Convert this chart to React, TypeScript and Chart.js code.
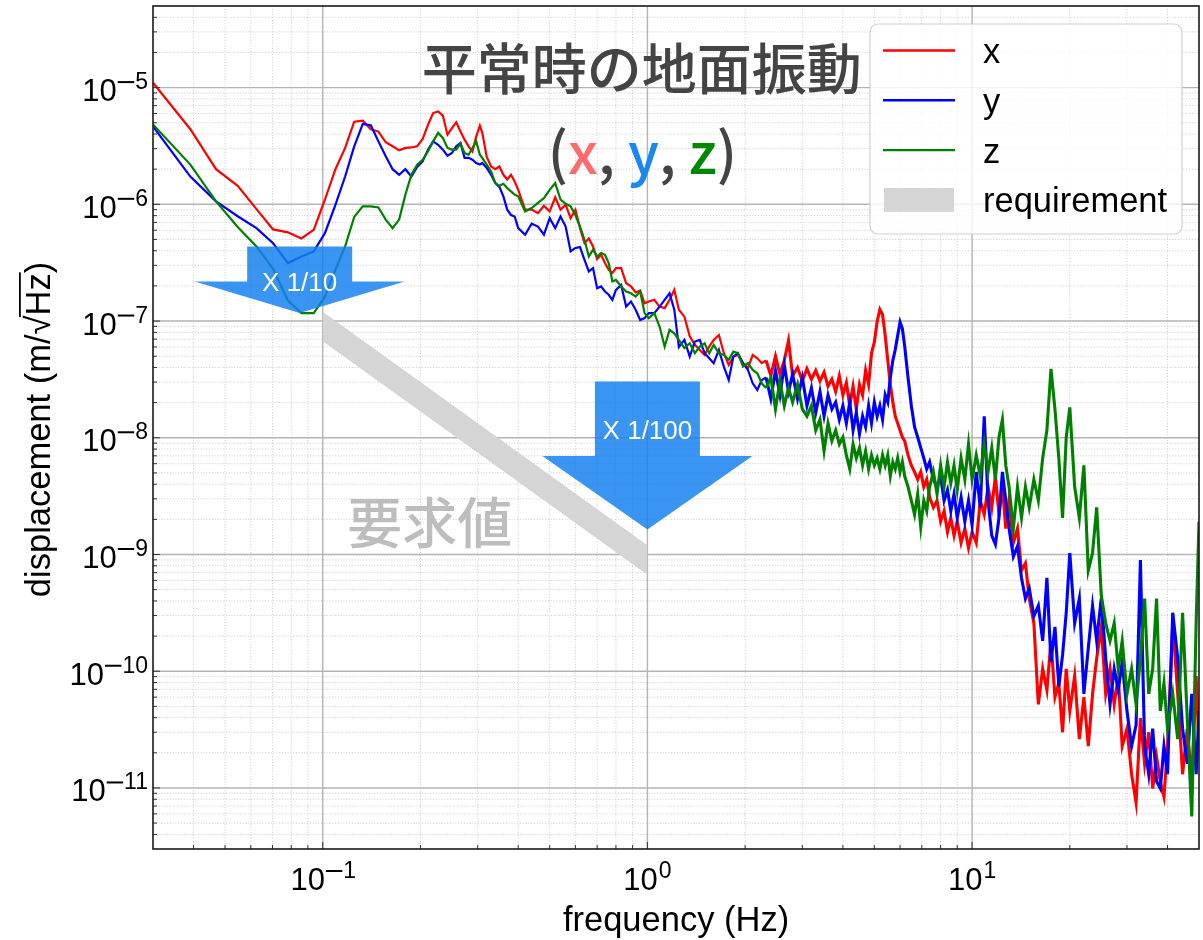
import React, { useEffect, useRef } from "react";
import { Chart, registerables } from "chart.js";

Chart.register(...registerables);

// ---------- data ----------
const freq = [
  // low-frequency bins
  0.03, 0.0391, 0.0469, 0.0547, 0.0625, 0.0703, 0.0781, 0.0859, 0.0938, 0.1016,
  0.1094, 0.1172, 0.125, 0.1328, 0.1406, 0.1484, 0.1563, 0.1641, 0.1719, 0.1797,
  0.1875, 0.1953, 0.2031, 0.2109, 0.2188, 0.2266, 0.2344, 0.2422, 0.25, 0.2578,
  0.2656, 0.2734, 0.2813, 0.2891, 0.2969, 0.3047,
  // mid band
  0.31, 0.32, 0.33, 0.34, 0.35, 0.36, 0.37, 0.38, 0.39, 0.40,
  0.42, 0.44, 0.46, 0.48, 0.50, 0.52, 0.54, 0.56, 0.58, 0.60,
  0.62, 0.64, 0.66, 0.68, 0.70, 0.72, 0.74, 0.76, 0.78, 0.80,
  0.83, 0.86, 0.89, 0.92, 0.95, 0.98,
  1.01, 1.05, 1.09, 1.13, 1.17, 1.21, 1.25,
  1.30, 1.35, 1.40, 1.45, 1.50, 1.55, 1.60,
  1.66, 1.72, 1.78, 1.84, 1.90,
  1.97, 2.04, 2.11, 2.18, 2.25,
  // high band
  2.32, 2.4, 2.48, 2.56, 2.64, 2.72, 2.8, 2.9, 3.0, 3.1,
  3.2, 3.3, 3.4, 3.5, 3.6, 3.7, 3.8, 3.9, 4.0, 4.1,
  4.2, 4.3, 4.4, 4.5, 4.6, 4.7, 4.8, 4.9, 5.0, 5.1,
  5.2, 5.3, 5.4, 5.5, 5.6, 5.7, 5.8, 5.9, 6.0, 6.1,
  6.2, 6.35, 6.5, 6.65, 6.8, 6.95, 7.1, 7.25, 7.4, 7.6,
  7.8, 8.0, 8.2, 8.4, 8.6, 8.8, 9.0, 9.25, 9.5, 9.75,
  10.0, 10.3, 10.6, 10.9, 11.2, 11.5, 11.8, 12.1, 12.4, 12.7,
  13.0, 13.4, 13.8, 14.2, 14.6, 15.0, 15.5, 16.0, 16.5, 17.0,
  17.5, 18.0, 18.5, 19.0, 19.5, 20.0, 20.7, 21.4, 22.1, 22.8,
  23.5, 24.2, 25.0, 25.8, 26.6, 27.4, 28.2, 29.0, 30.0, 31.0,
  32.0, 33.0, 34.0, 35.0, 36.0, 37.0, 38.0, 39.0, 40.0, 41.5,
  43.0, 44.5, 46.0, 47.5, 49.0, 50.0,
];

const dispX = [
  1.1e-5, 4.4e-6, 2.0e-6, 1.44e-6, 9.1e-7, 6.1e-7, 5.75e-7, 5.1e-7, 6.05e-7, 1.1e-6,
  2.0e-6, 3.04e-6, 5.1e-6, 5.2e-6, 4.4e-6, 4.2e-6, 3.4e-6, 3.14e-6, 2.9e-6, 3.04e-6,
  3.07e-6, 3.14e-6, 3.63e-6, 4.8e-6, 6.05e-6, 6.25e-6, 5.76e-6, 3.95e-6, 4.5e-6, 5.04e-6,
  4.2e-6, 3.58e-6, 3.14e-6, 2.84e-6, 3.8e-6, 4.72e-6,
  4.1e-6, 2.55e-6, 2.11e-6, 2.0e-6, 2.11e-6, 1.79e-6, 1.63e-6, 1.79e-6, 1.57e-6, 1.33e-6,
  9.0e-7, 9.0e-7, 8.4e-7, 9.7e-7, 8.7e-7, 1.15e-6, 9.0e-7, 9.9e-7, 7.6e-7, 9.0e-7,
  6.25e-7, 4.65e-7, 5.1e-7, 4.36e-7, 3.39e-7, 3.7e-7, 3.14e-7, 2.75e-7, 2.58e-7, 2.84e-7,
  2.84e-7, 2.11e-7, 1.98e-7, 1.76e-7, 1.83e-7, 1.42e-7,
  1.47e-7, 1.52e-7, 1.33e-7, 1.29e-7, 1.52e-7, 1.85e-7, 1.25e-7,
  1.09e-7, 7.4e-8, 6.25e-8, 5.66e-8, 5.13e-8, 6.04e-8, 6.9e-8,
  7.6e-8, 5.3e-8, 4.2e-8, 4.96e-8, 5.13e-8,
  4.36e-8, 3.95e-8, 5.13e-8, 4.8e-8, 4.36e-8,
  4.6e-8, 3.4e-8, 5.0e-8, 3.5e-8, 4.6e-8, 6.8e-8, 3.4e-8, 4.0e-8, 3.06e-8, 3.9e-8,
  3.17e-8, 3.77e-8, 3.06e-8, 3.64e-8, 2.76e-8, 3.17e-8, 2.49e-8, 3.4e-8, 2.32e-8, 2.96e-8,
  1.88e-8, 2.76e-8, 1.76e-8, 2.86e-8, 2.32e-8, 3.77e-8, 2.86e-8, 5.3e-8, 6.6e-8, 9.9e-8,
  1.26e-7, 1.14e-7, 7.5e-8, 4.6e-8, 2.86e-8, 2.02e-8, 1.53e-8, 1.33e-8, 1.16e-8, 1.01e-8,
  9.4e-9, 7.1e-9, 5.8e-9, 5.1e-9, 4.4e-9, 5.1e-9, 3.8e-9, 4.4e-9, 3.1e-9, 2.53e-9,
  2.9e-9, 1.92e-9, 2.36e-9, 1.56e-9, 2.06e-9, 1.45e-9, 1.92e-9, 1.26e-9, 1.67e-9, 1.14e-9,
  1.56e-9, 1.26e-9, 2.9e-9, 2.2e-9, 3.8e-9, 2.53e-9, 4.7e-9, 2.2e-9, 3.8e-9, 1.67e-9,
  2.9e-9, 1.26e-9, 1.67e-9, 7.3e-10, 8.4e-10, 4.2e-10, 2.58e-10, 5.2e-11, 1.05e-10, 6.9e-11,
  1.82e-10, 6.0e-11, 7.9e-11, 3.0e-11, 1.05e-10, 4.56e-11, 9.1e-11, 2.62e-11, 6.0e-11, 2.28e-11,
  6.4e-11, 1.29e-10, 2.4e-10, 6.4e-11, 1.05e-10, 5.2e-11, 9.1e-11, 2.28e-11, 3.22e-11, 1.31e-11,
  7.5e-12, 3.97e-11, 1.61e-11, 3.0e-11, 9.9e-12, 1.85e-11, 1.14e-11, 8.4e-12, 2.28e-11, 2.58e-10,
  6.4e-11, 1.31e-11, 3.22e-11, 1.14e-11, 9.1e-11, 2.28e-11,
];

const dispY = [
  4.65e-6, 1.73e-6, 1.06e-6, 7.9e-7, 6.25e-7, 4.65e-7, 3.14e-7, 3.57e-7, 3.95e-7, 5.68e-7,
  9.9e-7, 1.73e-6, 3.14e-6, 4.88e-6, 4.75e-6, 3.46e-6, 2.58e-6, 2.0e-6, 1.79e-6, 2.0e-6,
  1.73e-6, 2.09e-6, 2.33e-6, 2.94e-6, 3.46e-6, 3.24e-6, 2.94e-6, 2.61e-6, 2.75e-6, 3.14e-6,
  3.36e-6, 2.5e-6, 2.5e-6, 2.41e-6, 2.26e-6, 2.19e-6,
  2.26e-6, 2.05e-6, 1.79e-6, 1.52e-6, 1.41e-6, 1.17e-6, 9.0e-7, 8.1e-7, 7.86e-7, 6.25e-7,
  5.49e-7, 6.82e-7, 6.45e-7, 5.49e-7, 7.6e-7, 6.25e-7, 7.86e-7, 6.45e-7, 3.95e-7, 4.23e-7,
  4.3e-7, 3.35e-7, 2.66e-7, 2.84e-7, 1.91e-7, 1.98e-7, 1.79e-7, 1.68e-7, 1.52e-7, 1.85e-7,
  2.04e-7, 1.33e-7, 1.47e-7, 1.25e-7, 1.02e-7, 1.06e-7,
  1.17e-7, 1.17e-7, 1.33e-7, 1.52e-7, 1.73e-7, 1.25e-7, 6.0e-8,
  6.9e-8, 4.96e-8, 6.67e-8, 6.9e-8, 5.3e-8, 4.8e-8, 4.36e-8,
  5.66e-8, 4.07e-8, 3.13e-8, 4.96e-8, 5.3e-8,
  4.36e-8, 3.81e-8, 2.93e-8, 2.57e-8, 3.13e-8,
  3.28e-8, 2.16e-8, 3.77e-8, 2.32e-8, 4.2e-8, 2.49e-8, 3.5e-8, 2.16e-8, 3.28e-8, 1.88e-8,
  2.67e-8, 1.64e-8, 2.49e-8, 1.53e-8, 2.32e-8, 1.76e-8, 2.02e-8, 1.43e-8, 1.88e-8, 1.33e-8,
  2.02e-8, 1.16e-8, 1.64e-8, 1.08e-8, 1.53e-8, 1.24e-8, 1.88e-8, 1.33e-8, 2.02e-8, 1.53e-8,
  1.88e-8, 1.43e-8, 2.32e-8, 2.02e-8, 3.28e-8, 4.6e-8, 5.7e-8, 7.5e-8, 9.8e-8, 8.6e-8,
  6.1e-8, 3.28e-8, 1.88e-8, 1.24e-8, 1.01e-8, 8.2e-9, 6.7e-9, 5.4e-9, 6.2e-9, 4.4e-9,
  3.8e-9, 4.7e-9, 2.9e-9, 3.57e-9, 2.36e-9, 3.3e-9, 2.06e-9, 3.1e-9, 1.92e-9, 2.9e-9,
  1.79e-9, 5.1e-9, 2.53e-9, 1.53e-8, 2.9e-9, 1.45e-9, 1.22e-9, 2.06e-9, 5.1e-9, 2.9e-9,
  1.67e-9, 9.6e-10, 1.18e-9, 6.3e-10, 4.2e-10, 5.14e-10, 2.96e-10, 3.64e-10, 1.82e-10, 6.3e-10,
  1.2e-10, 2.4e-10, 7.4e-11, 1.38e-10, 3.17e-10, 1.03e-9, 2.58e-10, 4.2e-10, 6.4e-11, 1.58e-10,
  3.64e-10, 1.82e-10, 4.2e-10, 1.29e-10, 5.2e-11, 1.05e-10, 6.9e-11, 1.2e-10, 4.56e-11, 2.28e-11,
  3.45e-11, 8.95e-10, 2.28e-11, 1.31e-11, 3.22e-11, 1.14e-11, 9.9e-12, 2.28e-11, 1.31e-11, 3.17e-10,
  1.29e-10, 3.22e-11, 1.61e-11, 6.4e-11, 1.31e-11, 4.56e-11,
];

const dispZ = [
  4.84e-6, 2.19e-6, 1.06e-6, 6.4e-7, 4.36e-7, 2.8e-7, 1.5e-7, 1.17e-7, 1.17e-7, 1.62e-7,
  2.75e-7, 4.36e-7, 7.8e-7, 9.6e-7, 9.6e-7, 9.4e-7, 7.4e-7, 6.25e-7, 7.4e-7, 1.21e-6,
  1.79e-6, 2.19e-6, 2.41e-6, 2.84e-6, 3.46e-6, 4.09e-6, 3.7e-6, 3.04e-6, 2.94e-6, 2.94e-6,
  3.31e-6, 2.75e-6, 2.66e-6, 3.04e-6, 3.46e-6, 2.66e-6,
  2.5e-6, 2.19e-6, 1.91e-6, 1.52e-6, 1.44e-6, 1.5e-6, 1.38e-6, 1.29e-6, 1.21e-6, 1.17e-6,
  8.7e-7, 9.3e-7, 1.03e-6, 1.13e-6, 1.33e-6, 1.52e-6, 1.1e-6, 1.01e-6, 9.6e-7, 8.1e-7,
  6.45e-7, 4.97e-7, 3.57e-7, 4.09e-7, 3.57e-7, 3.82e-7, 3.7e-7, 3.14e-7, 2.18e-7, 2.25e-7,
  1.98e-7, 1.79e-7, 1.73e-7, 1.62e-7, 1.79e-7, 1.17e-7,
  1.06e-7, 1.17e-7, 8.97e-8, 6.04e-8, 8.4e-8, 7.86e-8, 6.9e-8,
  5.86e-8, 6.45e-8, 5.3e-8, 6.04e-8, 6.45e-8, 5.3e-8, 6.25e-8,
  5.3e-8, 5.13e-8, 4.66e-8, 5.47e-8, 5.3e-8,
  4.07e-8, 4.36e-8, 3.81e-8, 3.57e-8, 2.93e-8,
  2.67e-8, 3.28e-8, 1.76e-8, 3.06e-8, 1.88e-8, 2.67e-8, 2.02e-8, 2.86e-8, 1.76e-8, 1.53e-8,
  1.88e-8, 1.16e-8, 1.43e-8, 7.7e-9, 1.33e-8, 9.4e-9, 1.16e-8, 8.8e-9, 1.01e-8, 7.1e-9,
  5.4e-9, 8.8e-9, 6.7e-9, 8.2e-9, 5.8e-9, 7.7e-9, 5.4e-9, 7.1e-9, 5.8e-9, 6.7e-9,
  5.4e-9, 7.1e-9, 5.8e-9, 7.1e-9, 4.7e-9, 6.2e-9, 5.4e-9, 6.7e-9, 5.1e-9, 6.2e-9,
  4.7e-9, 3.8e-9, 2.9e-9, 2.2e-9, 3.3e-9, 1.73e-9, 2.9e-9, 2.36e-9, 3.8e-9, 5.1e-9,
  3.3e-9, 5.8e-9, 3.8e-9, 6.2e-9, 4.1e-9, 5.8e-9, 3.57e-9, 6.7e-9, 4.4e-9, 8.8e-9,
  4.4e-9, 7.1e-9, 4.7e-9, 8.8e-9, 5.1e-9, 8.2e-9, 4.4e-9, 1.01e-8, 1.43e-8, 5.8e-9,
  3.8e-9, 1.67e-9, 3.8e-9, 2.06e-9, 3.8e-9, 2.53e-9, 4.4e-9, 2.9e-9, 6.7e-9, 1.16e-8,
  3.9e-8, 1.76e-8, 6.7e-9, 2.06e-9, 1.01e-8, 1.82e-8, 3.8e-9, 2.06e-9, 5.8e-9, 7.3e-10,
  1.03e-9, 2.53e-9, 4.48e-10, 2.58e-10, 1.82e-10, 2.58e-10, 1.05e-10, 1.82e-10, 6.4e-11, 1.05e-10,
  5.2e-11, 1.29e-10, 4.2e-10, 6.4e-11, 1.05e-10, 4.2e-10, 4.56e-11, 7.9e-11, 3.22e-11, 6.4e-11,
  2.62e-11, 3.17e-10, 3.97e-11, 5.7e-12, 2.58e-10, 1.92e-9,
];

// requirement band (upper / lower edge)
const reqFreq = [0.1, 1.0];
const reqUpper = [1.2e-7, 1.2e-9];
const reqLower = [6.7e-8, 6.7e-10];

const seriesLabels = ["x", "y", "z", "requirement"];
const seriesColors = ["#ff0000", "#0000ff", "#008000", "#d5d5d5"];
const xTickExps = [-1, 0, 1];
const yTickExps = [-11, -10, -9, -8, -7, -6, -5];

const X_MIN = 0.03, X_MAX = 50, Y_MIN = 3e-12, Y_MAX = 5e-5;
const NOISY_FROM = 2.3; // Hz, where the spectra turn into dense noise bands

const titleText = "平常時の地面振動";
const reqText = "要求値";
const xTitle = "frequency (Hz)";

// annotation anchors in data coordinates
const arrowNotes = [
  { f: 0.0849, top: 4.35e-7, base: 2.18e-7, tip: 1.17e-7, labelY: 2.08e-7, label: "X 1/10" },
  { f: 1.0, top: 3.03e-8, base: 6.98e-9, tip: 1.64e-9, labelY: 1.13e-8, label: "X 1/100" },
];
const titleAnchor = { f: 0.961, v: 1.48e-5 };
const xyzAnchor = { f: 0.965, v: 1.83e-6 };
const reqTextAnchor = { f: 0.2136, v: 1.9e-9 };

const SANS = '"Liberation Sans", Arial, Helvetica, sans-serif';
const CJK = '"Noto Sans CJK JP", "Noto Sans CJK SC", "Noto Sans", sans-serif';

function drawGrid(chart: any) {
  const { ctx, chartArea: a } = chart;
  const xs = chart.scales.x, ys = chart.scales.y;
  ctx.save();
  ctx.beginPath();
  ctx.rect(a.left, a.top, a.right - a.left, a.bottom - a.top);
  ctx.clip();
  ctx.strokeStyle = "#c6c6c6";
  ctx.lineWidth = 0.8;
  ctx.setLineDash([1.2, 1.6]);
  ctx.beginPath();
  for (let e = -2; e <= 1; e++) {
    for (let k = 2; k <= 9; k++) {
      const v = k * Math.pow(10, e);
      if (v <= X_MIN || v >= X_MAX) continue;
      const p = xs.getPixelForValue(v);
      ctx.moveTo(p, a.top);
      ctx.lineTo(p, a.bottom);
    }
  }
  for (let e = -12; e <= -5; e++) {
    for (let k = 2; k <= 9; k++) {
      const v = k * Math.pow(10, e);
      if (v <= Y_MIN || v >= Y_MAX) continue;
      const p = ys.getPixelForValue(v);
      ctx.moveTo(a.left, p);
      ctx.lineTo(a.right, p);
    }
  }
  ctx.stroke();
  ctx.setLineDash([]);
  ctx.strokeStyle = "#b4b4b4";
  ctx.lineWidth = 1.4;
  ctx.beginPath();
  for (const e of xTickExps) {
    const p = xs.getPixelForValue(Math.pow(10, e));
    ctx.moveTo(p, a.top);
    ctx.lineTo(p, a.bottom);
  }
  for (const e of yTickExps) {
    const p = ys.getPixelForValue(Math.pow(10, e));
    ctx.moveTo(a.left, p);
    ctx.lineTo(a.right, p);
  }
  ctx.stroke();
  ctx.restore();
}

function drawAnnotations(chart: any) {
  const { ctx } = chart;
  const xs = chart.scales.x, ys = chart.scales.y;
  ctx.save();
  ctx.font = `500 55px ${CJK}`;
  ctx.fillStyle = "#bdbdbd";
  ctx.textAlign = "center";
  ctx.textBaseline = "middle";
  ctx.fillText(reqText, xs.getPixelForValue(reqTextAnchor.f), ys.getPixelForValue(reqTextAnchor.v));

  for (const ar of arrowNotes) {
    const cx = xs.getPixelForValue(ar.f);
    const yt = ys.getPixelForValue(ar.top);
    const yb = ys.getPixelForValue(ar.base);
    const yp = ys.getPixelForValue(ar.tip);
    const hw = 52.5, hh = 105;
    ctx.beginPath();
    ctx.moveTo(cx - hw, yt);
    ctx.lineTo(cx + hw, yt);
    ctx.lineTo(cx + hw, yb);
    ctx.lineTo(cx + hh, yb);
    ctx.lineTo(cx, yp);
    ctx.lineTo(cx - hh, yb);
    ctx.lineTo(cx - hw, yb);
    ctx.closePath();
    ctx.fillStyle = "rgba(20,128,238,0.84)";
    ctx.fill();
    ctx.font = `26px ${SANS}`;
    ctx.fillStyle = "#ffffff";
    ctx.textAlign = "center";
    ctx.textBaseline = "middle";
    ctx.fillText(ar.label, cx, ys.getPixelForValue(ar.labelY));
  }

  ctx.font = `500 55px ${CJK}`;
  ctx.fillStyle = "#444444";
  ctx.textAlign = "center";
  ctx.textBaseline = "middle";
  ctx.fillText(titleText, xs.getPixelForValue(titleAnchor.f), ys.getPixelForValue(titleAnchor.v));

  const parts: [string, string][] = [
    ["(", "#444444"], ["x", "#ff6b6b"], [", ", "#444444"], ["y", "#1a88ee"],
    [", ", "#444444"], ["z", "#008800"], [")", "#444444"],
  ];
  ctx.font = `500 57px ${CJK}`;
  ctx.textAlign = "left";
  ctx.textBaseline = "alphabetic";
  const total = parts.reduce((s, p) => s + ctx.measureText(p[0]).width, 0);
  let px = xs.getPixelForValue(xyzAnchor.f) - total / 2;
  const py = ys.getPixelForValue(xyzAnchor.v);
  for (const [t, c] of parts) {
    ctx.fillStyle = c;
    ctx.fillText(t, px, py);
    px += ctx.measureText(t).width;
  }
  ctx.restore();
}

function drawPow(ctx: any, exp: number, x: number, baseY: number, align: "right" | "center") {
  const baseFont = `31px ${SANS}`;
  const supFont = `23px ${SANS}`;
  const sup = exp < 0 ? "\u2212" + String(-exp) : String(exp);
  ctx.font = baseFont;
  const wb = ctx.measureText("10").width;
  ctx.font = supFont;
  const wsRaw = ctx.measureText(sup).width;
  const gap = exp < 0 ? 4 : 1;
  const ws = wsRaw + gap;
  const start = align === "right" ? x - wb - ws : x - (wb + ws) / 2;
  ctx.textAlign = "left";
  ctx.textBaseline = "alphabetic";
  ctx.font = baseFont;
  ctx.fillText("10", start, baseY);
  ctx.font = supFont;
  if (exp < 0) {
    const mw = ctx.measureText("\u2212").width + 3;
    ctx.fillRect(start + wb + 1, baseY - 20, mw, 2);
    ctx.fillText(String(-exp), start + wb + 1 + mw + 1, baseY - 12);
  } else {
    ctx.fillText(sup, start + wb + 1, baseY - 12);
  }
}

function drawAxes(chart: any) {
  const { ctx, chartArea: a } = chart;
  const xs = chart.scales.x, ys = chart.scales.y;
  ctx.save();
  ctx.strokeStyle = "#333333";
  ctx.lineWidth = 1;
  ctx.beginPath();
  for (let e = -2; e <= 1; e++) {
    for (let k = 1; k <= 9; k++) {
      const v = k * Math.pow(10, e);
      if (v <= X_MIN || v >= X_MAX) continue;
      const p = xs.getPixelForValue(v);
      const len = k === 1 ? 7 : 4;
      ctx.moveTo(p, a.bottom);
      ctx.lineTo(p, a.bottom - len);
    }
  }
  for (let e = -12; e <= -5; e++) {
    for (let k = 1; k <= 9; k++) {
      const v = k * Math.pow(10, e);
      if (v <= Y_MIN || v >= Y_MAX) continue;
      const p = ys.getPixelForValue(v);
      const len = k === 1 ? 7 : 4;
      ctx.moveTo(a.left, p);
      ctx.lineTo(a.left + len, p);
    }
  }
  ctx.stroke();
  ctx.strokeStyle = "#1a1a1a";
  ctx.lineWidth = 1.6;
  ctx.strokeRect(a.left, a.top, a.right - a.left, a.bottom - a.top);

  ctx.fillStyle = "#000000";
  for (const e of yTickExps) {
    const p = ys.getPixelForValue(Math.pow(10, e));
    drawPow(ctx, e, a.left - 6, p + 13.5, "right");
  }
  for (const e of xTickExps) {
    const p = xs.getPixelForValue(Math.pow(10, e));
    drawPow(ctx, e, p, a.bottom + 41, "center");
  }

  ctx.font = `34.5px ${SANS}`;
  ctx.textAlign = "center";
  ctx.textBaseline = "alphabetic";
  ctx.fillText(xTitle, (a.left + a.right) / 2, a.bottom + 82);

  ctx.save();
  ctx.translate(50, (a.top + a.bottom) / 2 + 2);
  ctx.rotate(-Math.PI / 2);
  ctx.font = `34.5px ${SANS}`;
  ctx.textAlign = "left";
  const p1 = "displacement (m/", p2 = "\u221A", p3 = "Hz", p4 = ")";
  const w1 = ctx.measureText(p1).width;
  const w2 = ctx.measureText(p2).width;
  const w3 = ctx.measureText(p3).width;
  const w4 = ctx.measureText(p4).width;
  const x0 = -(w1 + w2 + w3 + w4) / 2;
  ctx.fillText(p1, x0, 0);
  ctx.fillText(p2, x0 + w1, 0);
  ctx.fillText(p3, x0 + w1 + w2, 0);
  ctx.fillText(p4, x0 + w1 + w2 + w3, 0);
  ctx.fillRect(x0 + w1 + w2 - 1.5, -31, w3 + 2.5, 1.8);
  ctx.restore();
  ctx.restore();
}

function drawLegend(chart: any) {
  const { ctx } = chart;
  ctx.save();
  const bx = 870, by = 24, bw = 312, bh = 210;
  ctx.beginPath();
  ctx.roundRect(bx, by, bw, bh, 8);
  ctx.fillStyle = "rgba(255,255,255,0.82)";
  ctx.fill();
  ctx.strokeStyle = "#d0d0d0";
  ctx.lineWidth = 1.2;
  ctx.stroke();
  ctx.font = `34.5px ${SANS}`;
  ctx.textAlign = "left";
  ctx.textBaseline = "alphabetic";
  seriesLabels.forEach((lab, i) => {
    const cy = 50.5 + i * 49.8;
    if (i < 3) {
      ctx.strokeStyle = seriesColors[i];
      ctx.lineWidth = 2.4;
      ctx.beginPath();
      ctx.moveTo(883, cy);
      ctx.lineTo(955, cy);
      ctx.stroke();
    } else {
      ctx.fillStyle = seriesColors[i];
      ctx.fillRect(884, cy - 12, 70, 24);
    }
    ctx.fillStyle = "#000000";
    ctx.fillText(lab, 983, cy + 12.5);
  });
  ctx.restore();
}

const decorPlugin = {
  id: "decor",
  beforeDatasetsDraw(chart: any) {
    drawGrid(chart);
  },
  afterDatasetsDraw(chart: any) {
    drawAnnotations(chart);
  },
  afterDraw(chart: any) {
    drawAxes(chart);
    drawLegend(chart);
  },
};

export default function App() {
  const ref = useRef<HTMLCanvasElement | null>(null);
  useEffect(() => {
    const canvas = ref.current;
    if (!canvas) return;
    const pts = (vals: number[]) => freq.map((f, i) => ({ x: f, y: vals[i] }));
    const line = (label: string, vals: number[], color: string, order: number) => ({
      label,
      data: pts(vals),
      borderColor: color,
      backgroundColor: color,
      borderWidth: 2.2,
      pointRadius: 0,
      fill: false,
      tension: 0,
      order,
      segment: {
        borderWidth: (c: any) => (c.p0.parsed.x >= NOISY_FROM ? 3.1 : 2.2),
      },
    });
    const chart = new Chart(canvas, {
      type: "line",
      data: {
        datasets: [
          line(seriesLabels[0], dispX, seriesColors[0], 2),
          line(seriesLabels[1], dispY, seriesColors[1], 1),
          line(seriesLabels[2], dispZ, seriesColors[2], 0),
          {
            label: seriesLabels[3],
            data: reqFreq.map((f, i) => ({ x: f, y: reqUpper[i] })),
            borderColor: "rgba(0,0,0,0)",
            borderWidth: 0,
            pointRadius: 0,
            fill: false,
            order: 3,
          },
          {
            label: seriesLabels[3] + " lower",
            data: reqFreq.map((f, i) => ({ x: f, y: reqLower[i] })),
            borderColor: "rgba(0,0,0,0)",
            backgroundColor: seriesColors[3],
            borderWidth: 0,
            pointRadius: 0,
            fill: "-1",
            order: 4,
          },
        ],
      } as any,
      options: {
        responsive: false,
        animation: false,
        events: [],
        layout: { padding: { top: 6, right: 4, left: 0, bottom: 0 } },
        plugins: {
          legend: { display: false },
          tooltip: { enabled: false },
          title: { display: false },
        },
        scales: {
          x: {
            type: "logarithmic",
            position: "bottom",
            min: X_MIN,
            max: X_MAX,
            grid: { display: false },
            ticks: { display: false },
            border: { display: false },
            afterFit: (s: any) => {
              s.height = 91;
            },
          },
          y: {
            type: "logarithmic",
            position: "left",
            min: Y_MIN,
            max: Y_MAX,
            grid: { display: false },
            ticks: { display: false },
            border: { display: false },
            afterFit: (s: any) => {
              s.width = 153;
            },
          },
        },
      } as any,
      plugins: [decorPlugin],
    });
    return () => chart.destroy();
  }, []);
  return (
    <div style={{ position: "fixed", left: 0, top: 0, width: 1203, height: 940, background: "#ffffff" }}>
      <canvas ref={ref} width={1203} height={940} style={{ width: 1203, height: 940, display: "block" }} />
    </div>
  );
}
